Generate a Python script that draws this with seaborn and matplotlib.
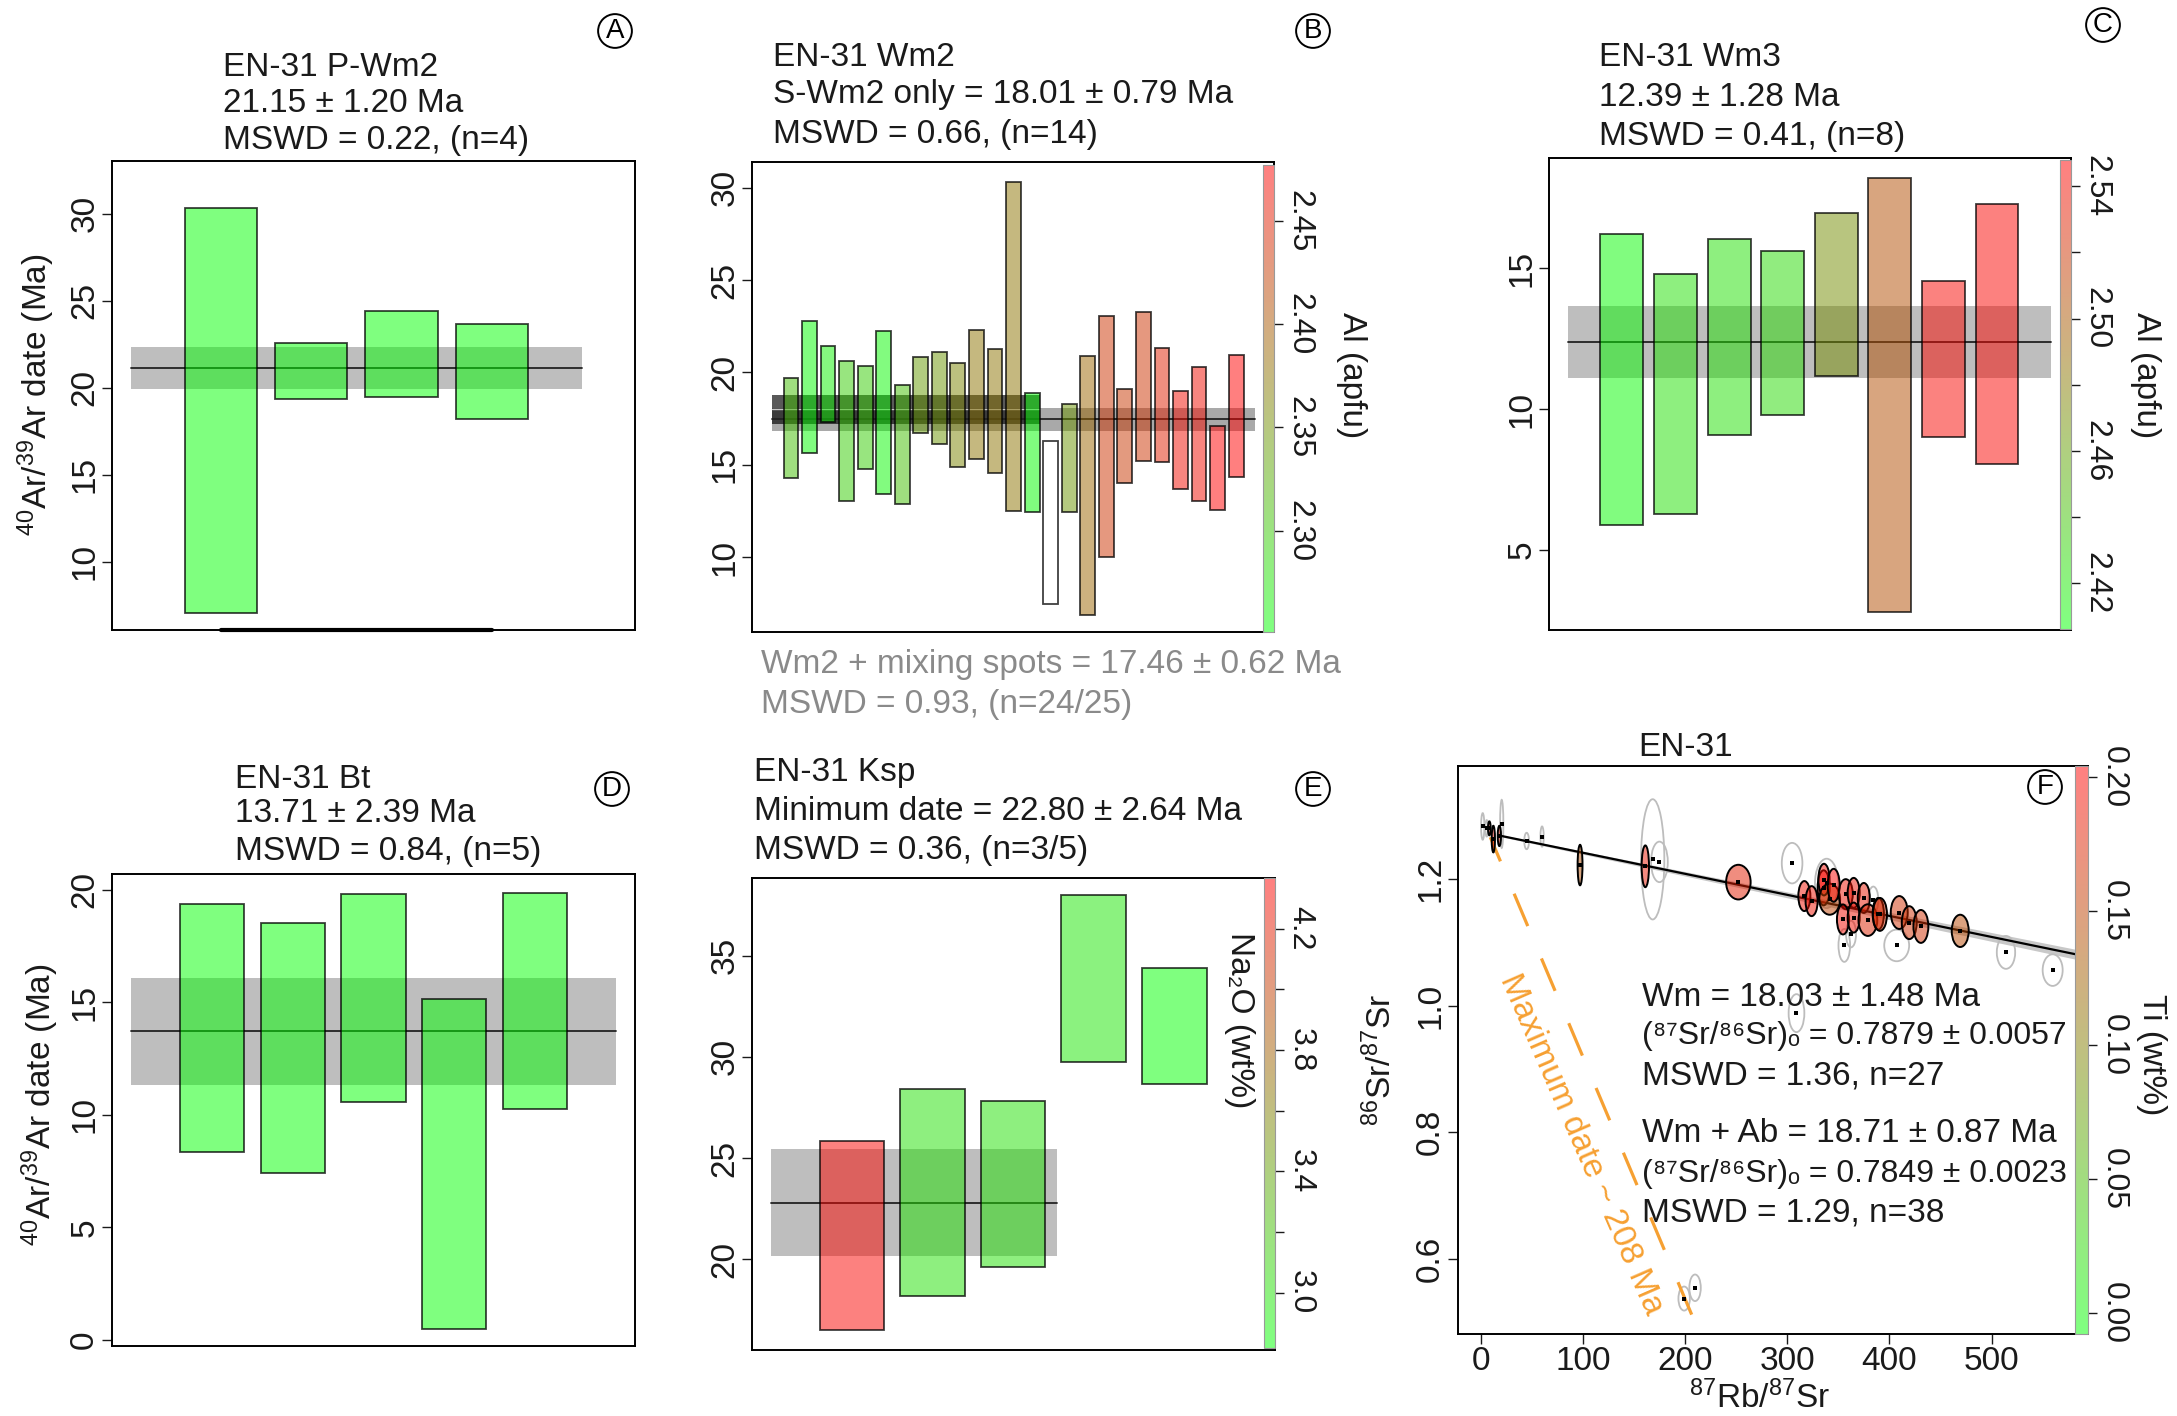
import numpy as np
import pandas as pd
import seaborn as sns
import matplotlib
matplotlib.use("Agg")
import matplotlib.pyplot as plt
from matplotlib.colors import LinearSegmentedColormap, Normalize
from matplotlib.cm import ScalarMappable
from matplotlib.patches import Ellipse

# ---------------- data ----------------
# A: EN-31 P-Wm2
a_lo = [7.07, 19.33, 19.45, 18.18]
a_hi = [30.33, 22.55, 24.42, 23.64]
a_mean, a_err = 21.15, 1.20
a_band = [0, 5]
a_rug = [1, 4]

# B: EN-31 Wm2 (Al apfu colour)
b_lo = [14.31, 15.63, 17.34, 13.02, 14.78, 13.42, 12.87, 16.72, 16.10, 14.88, 15.33, 14.58, 12.52,
        12.47, 7.45, 12.42, 6.88, 9.99, 14.04, 15.23, 15.16, 13.69, 13.04, 12.57, 14.36]
b_hi = [19.68, 22.78, 21.42, 20.60, 20.35, 22.24, 19.30, 20.84, 21.09, 20.50, 22.29, 21.29, 30.29,
        18.86, 16.27, 18.31, 20.89, 23.06, 19.13, 23.25, 21.34, 18.98, 20.30, 17.12, 20.97]
b_al = [2.308, 2.253, 2.262, 2.296, 2.296, 2.258, 2.308, 2.341, 2.346, 2.360, 2.375, 2.375, 2.375,
        2.253, np.nan, 2.346, 2.387, 2.432, 2.428, 2.432, 2.450, 2.466, 2.466, 2.477, 2.477]
b_mean, b_err = 17.46, 0.62
b_band = [0, 26]
b_sub_mean, b_sub_err = 18.01, 0.79
b_sub_band = [0, 14.4]
b_cb = (2.251, 2.477)
b_cb_ticks = [2.30, 2.35, 2.40, 2.45]
b_cb_labels = ["2.30", "2.35", "2.40", "2.45"]

# C: EN-31 Wm3
c_lo = [5.89, 6.29, 9.08, 9.78, 11.17, 2.79, 9.00, 8.05]
c_hi = [16.20, 14.81, 16.02, 15.62, 16.96, 18.20, 14.54, 17.27]
c_al = [2.409, 2.423, 2.423, 2.427, 2.470, 2.505, 2.544, 2.545]
c_mean, c_err = 12.39, 1.28
c_band = [0, 9]
c_cb = (2.406, 2.548)
c_cb_ticks = [2.42, 2.44, 2.46, 2.48, 2.50, 2.52, 2.54]
c_cb_labels = ["2.42", "", "2.46", "", "2.50", "", "2.54"]

# D: EN-31 Bt
d_lo = [8.34, 7.43, 10.58, 0.48, 10.25]
d_hi = [19.38, 18.55, 19.83, 15.17, 19.85]
d_mean, d_err = 13.71, 2.39
d_band = [0, 6]

# E: EN-31 Ksp (Na2O colour)
e_lo = [16.49, 18.18, 19.61, 29.72, 28.67]
e_hi = [25.86, 28.43, 27.84, 37.98, 34.38]
e_na = [4.336, 3.003, 3.003, 2.970, 2.820]
e_mean, e_err = 22.80, 2.64
e_band = [0, 3.54]
e_cb = (2.817, 4.367)
e_cb_ticks = [3.0, 3.2, 3.4, 3.6, 3.8, 4.0, 4.2]
e_cb_labels = ["3.0", "", "3.4", "", "3.8", "", "4.2"]

# F: Rb-Sr isochron (Ti colour)
f_fill_x = [8.3, 12.2, 18.1, 97.1, 161.0, 252.1, 316.7, 323.8, 335.6, 335.9, 341.5, 345.4, 357.2,
            365.0, 354.5, 365.0, 374.9, 378.9, 389.1, 390.7, 409.6, 419.4, 430.8, 469.3]
f_fill_y = [1.280, 1.263, 1.268, 1.222, 1.220, 1.195, 1.173, 1.165, 1.186, 1.199, 1.168, 1.190, 1.176,
            1.178, 1.136, 1.139, 1.170, 1.135, 1.145, 1.144, 1.147, 1.131, 1.125, 1.118]
f_fill_a = [1.3, 1.6, 1.6, 2.4, 3.6, 12.0, 5.9, 5.9, 5.9, 5.5, 10.2, 5.9, 6.9,
            5.9, 5.9, 5.9, 5.9, 9.2, 5.5, 6.9, 8.3, 7.3, 7.3, 8.3]
f_fill_b = [0.011, 0.021, 0.016, 0.032, 0.033, 0.0274, 0.0237, 0.0237, 0.0277, 0.025, 0.0245, 0.026, 0.0237,
            0.0237, 0.0237, 0.0237, 0.0237, 0.025, 0.025, 0.026, 0.026, 0.026, 0.026, 0.0255]
f_fill_ti = [0.18, 0.19, 0.18, 0.14, 0.185, 0.18, 0.19, 0.19, 0.20, 0.195, 0.15, 0.20, 0.19,
             0.19, 0.195, 0.19, 0.185, 0.175, 0.175, 0.17, 0.165, 0.165, 0.165, 0.145]
f_grey_x = [1.8, 5.7, 20.4, 44.8, 59.9, 168.2, 174.8, 304.7, 355.8, 362.4, 384.2, 407.1, 514.1,
            559.8, 338.5, 309.0, 199.0, 209.7]
f_grey_y = [1.283, 1.280, 1.287, 1.260, 1.267, 1.231, 1.227, 1.225, 1.095, 1.113, 1.167, 1.095, 1.084,
            1.056, 1.193, 0.988, 0.537, 0.554]
f_grey_a = [1.6, 1.3, 1.6, 2.3, 1.6, 11.4, 8.2, 10.1, 5.7, 4.9, 4.9, 12.2, 9.0,
            9.8, 11.4, 7.7, 5.6, 5.6]
f_grey_b = [0.021, 0.013, 0.038, 0.013, 0.016, 0.095, 0.032, 0.032, 0.026, 0.021, 0.021, 0.025, 0.026,
            0.025, 0.039, 0.030, 0.019, 0.021]
iso_x = [20.0, 594.4]
iso_y = [1.268, 1.077]
iso_half = [0.0015, 0.008]
max_x = [9.2, 240.0]
max_y = [1.266, 0.383]
f_cb = (-0.0078, 0.204)
f_cb_ticks = [0.00, 0.05, 0.10, 0.15, 0.20]
f_cb_labels = ["0.00", "0.05", "0.10", "0.15", "0.20"]

# ---------------- style ----------------
sns.set_theme(style="ticks")
plt.rcParams['font.family'] = ['Liberation Sans', 'DejaVu Sans']
plt.rcParams['mathtext.fontset'] = 'custom'
plt.rcParams['mathtext.rm'] = 'Liberation Sans'
plt.rcParams['mathtext.it'] = 'Liberation Sans:italic'
plt.rcParams['mathtext.bf'] = 'Liberation Sans:bold'
plt.rcParams['axes.facecolor'] = 'white'
plt.rcParams['text.color'] = '#1a1a1a'

W, H = 2177, 1416
FS = 24
fig = plt.figure(figsize=(W / 100, H / 100), dpi=100)

cmap = LinearSegmentedColormap.from_list("gr", ["#00FF00", "#FF0000"])
cmap_light = LinearSegmentedColormap.from_list("gr_l", [(0.5, 1, 0.5), (1, 0.5, 0.5)])


def px_axes(l, t, r, b):
    return fig.add_axes([l / W, 1 - b / H, (r - l) / W, (b - t) / H])


def ftext(x, y, s, **kw):
    kw.setdefault('fontsize', FS)
    kw.setdefault('va', 'center')
    return fig.text(x / W, 1 - y / H, s, **kw)


def tag(x, y, s):
    ftext(x, y, s, fontsize=20, ha='center', color='black',
          bbox=dict(boxstyle='circle,pad=0.14', fc='none', ec='black', lw=1.4))


def fills(vals, lims):
    norm = Normalize(*lims)
    out = []
    for v in vals:
        if np.isnan(v):
            out.append((1, 1, 1, 1))
        else:
            r, g, b_, _ = cmap(norm(v))
            out.append((r, g, b_, 0.5))
    return out


def style(ax):
    for s in ax.spines.values():
        s.set_visible(True)
        s.set_linewidth(1.4)
        s.set_color('black')
    ax.tick_params(axis='y', direction='out', length=7, width=1, labelsize=FS, pad=1.5,
                   colors='#1a1a1a', left=True)
    for t in ax.get_yticklabels():
        t.set_rotation(90)
        t.set_va('center')


def wm_panel(rect, lo, hi, mean, err, band, xlim, ylim, yticks, colours, band_colour='#BEBEBE'):
    ax = px_axes(*rect)
    pos = np.arange(1, len(lo) + 1)
    ax.fill_between(band, mean - err, mean + err, color=band_colour, lw=0, zorder=1)
    sns.lineplot(x=band, y=[mean, mean], color='#222222', lw=1.3, ax=ax, zorder=2)
    ax.bar(pos, np.subtract(hi, lo), bottom=lo, width=0.8, color=colours,
           edgecolor=(0, 0, 0, 0.75), linewidth=1.3, zorder=3)
    ax.set_xlim(xlim)
    ax.set_ylim(ylim)
    ax.set_yticks(yticks)
    ax.set_xticks([])
    style(ax)
    return ax


def strip(rect, lims, ticks, labels, name, name_xy):
    cax = px_axes(*rect)
    sm = ScalarMappable(norm=Normalize(*lims), cmap=cmap_light)
    cb = fig.colorbar(sm, cax=cax)
    cb.set_ticks(ticks, labels=labels)
    cb.outline.set_edgecolor('#999999')
    cb.outline.set_linewidth(0.8)
    cax.tick_params(axis='y', direction='out', length=6.5, width=1, labelsize=23, pad=1,
                    right=True, left=False, colors='#1a1a1a')
    for t in cax.get_yticklabels():
        t.set_rotation(-90)
        t.set_va('center')
        t.set_ha('left')
    if name:
        ftext(name_xy[0], name_xy[1], name, rotation=-90, ha='center')


green = [(0, 1, 0, 0.5)]
ylab = r'$^{40}$Ar/$^{39}$Ar date (Ma)'

# ---- A ----
axa = wm_panel((112, 161, 635, 630), a_lo, a_hi, a_mean, a_err, a_band, (-0.205, 5.585),
               (6.08, 33.02), [10, 15, 20, 25, 30], green * len(a_lo))
axa.plot(a_rug, [6.08, 6.08], color='black', lw=3, clip_on=False, zorder=4)
ftext(36, 395, ylab, rotation=90, ha='center')
ftext(223, 68, "EN-31 P-Wm2")
ftext(223, 104, "21.15 ± 1.20 Ma")
ftext(223, 141, "MSWD = 0.22, (n=4)")
tag(615, 31, "A")

# ---- B ----
axb = wm_panel((752, 162, 1274, 632), b_lo, b_hi, b_mean, b_err, b_band, (-1.1, 27.04),
               (5.95, 31.39), [10, 15, 20, 25, 30], fills(b_al, b_cb), band_colour='#A9A9A9')
axb.fill_between(b_sub_band, b_sub_mean - b_sub_err, b_sub_mean + b_sub_err,
                 color=(0, 0, 0, 0.65), lw=0, zorder=1.5)
axb.plot(b_sub_band, [b_sub_mean, b_sub_mean], color='#C8C8C8', lw=1, zorder=2)
strip((1263, 165, 1274, 632), b_cb, b_cb_ticks, b_cb_labels, "Al (apfu)", (1351, 375))
ftext(773, 57, "EN-31 Wm2")
ftext(773, 94, "S-Wm2 only = 18.01 ± 0.79 Ma")
ftext(773, 135, "MSWD = 0.66, (n=14)")
ftext(761, 664, "Wm2 + mixing spots = 17.46 ± 0.62 Ma", color='#8a8a8a')
ftext(761, 704, "MSWD = 0.93, (n=24/25)", color='#8a8a8a')
tag(1313, 31, "B")

# ---- C ----
axc = wm_panel((1549, 158, 2071, 630), c_lo, c_hi, c_mean, c_err, c_band, (-0.36, 9.38),
               (2.16, 18.91), [5, 10, 15], fills(c_al, c_cb))
strip((2060, 160, 2071, 629), c_cb, c_cb_ticks, c_cb_labels, "Al (apfu)", (2146, 375))
ftext(1599, 57, "EN-31 Wm3")
ftext(1599, 97, "12.39 ± 1.28 Ma")
ftext(1599, 136, "MSWD = 0.41, (n=8)")
tag(2103, 25, "C")

# ---- D ----
axd = wm_panel((112, 874, 635, 1346), d_lo, d_hi, d_mean, d_err, d_band, (-0.24, 6.24),
               (-0.27, 20.71), [0, 5, 10, 15, 20], green * len(d_lo))
ftext(40, 1105, ylab, rotation=90, ha='center')
ftext(235, 780, "EN-31 Bt")
ftext(235, 814, "13.71 ± 2.39 Ma")
ftext(235, 852, "MSWD = 0.84, (n=5)")
tag(612, 789, "D")

# ---- E ----
axe = wm_panel((752, 878, 1275, 1350), e_lo, e_hi, e_mean, e_err, e_band, (-0.24, 6.25),
               (15.52, 38.83), [20, 25, 30, 35], fills(e_na, e_cb))
strip((1264, 878, 1275, 1348), e_cb, e_cb_ticks, e_cb_labels, "", (1240, 1020))
ftext(1240, 1020, "Na₂O (wt%)", rotation=-90, ha='center')
ftext(754, 772, "EN-31 Ksp")
ftext(754, 812, "Minimum date = 22.80 ± 2.64 Ma")
ftext(754, 851, "MSWD = 0.36, (n=3/5)")
tag(1313, 789, "E")

# ---- F ----
axf = px_axes(1458, 766, 2088, 1334)
axf.fill_between(iso_x, np.subtract(iso_y, iso_half), np.add(iso_y, iso_half),
                 color='#C8C8C8', lw=0, zorder=1)
for x, y, a, b in zip(f_grey_x, f_grey_y, f_grey_a, f_grey_b):
    axf.add_patch(Ellipse((x, y), 2 * a, 2 * b, fc='none', ec='#BDBDBD', lw=1.3, zorder=2))
axf.plot(max_x, max_y, color='#F6A032', lw=2.3, linestyle=(2.8, (11, 11)), zorder=2.5)
sns.lineplot(x=iso_x, y=iso_y, color='black', lw=1.6, ax=axf, zorder=3)
ti_cols = fills(f_fill_ti, f_cb)
for x, y, a, b, c in zip(f_fill_x, f_fill_y, f_fill_a, f_fill_b, ti_cols):
    axf.add_patch(Ellipse((x, y), 2 * a, 2 * b, fc=c, ec='black', lw=1.4, zorder=4))
dots = pd.DataFrame({"x": f_grey_x + f_fill_x, "y": f_grey_y + f_fill_y})
sns.scatterplot(data=dots, x="x", y="y", marker='s', s=7, color='black', linewidth=0,
                ax=axf, zorder=5, legend=False)
axf.text(98, 0.781, "Maximum date ~ 208 Ma", color='#F6A032', fontsize=FS, rotation=-66.5,
         rotation_mode='anchor', ha='center', va='center')
axf.set_xlim(-22.4, 594.4)
axf.set_ylim(0.481, 1.3785)
axf.set_xticks([0, 100, 200, 300, 400, 500])
axf.set_yticks([0.6, 0.8, 1.0, 1.2])
axf.set_xlabel("")
axf.set_ylabel("")
style(axf)
axf.tick_params(axis='x', direction='out', length=7, width=1, labelsize=FS, pad=2,
                colors='#1a1a1a', bottom=True)
strip((2075, 766, 2088, 1334), f_cb, f_cb_ticks, f_cb_labels, "Ti (wt%)", (2152, 1055))
ftext(1686, 747, "EN-31", ha='center')
ftext(1381, 1060, r'$^{86}$Sr/$^{87}$Sr', rotation=90, ha='center')
ftext(1760, 1398, r'$^{87}$Rb/$^{87}$Sr', ha='center')
ftext(1642, 997, "Wm = 18.03 ± 1.48 Ma")
ftext(1642, 1036, "(⁸⁷Sr/⁸⁶Sr)ₒ = 0.7879 ± 0.0057", fontsize=23)
ftext(1642, 1076, "MSWD = 1.36, n=27")
ftext(1642, 1134, "Wm + Ab = 18.71 ± 0.87 Ma")
ftext(1642, 1174, "(⁸⁷Sr/⁸⁶Sr)ₒ = 0.7849 ± 0.0023", fontsize=23)
ftext(1642, 1213, "MSWD = 1.29, n=38")
tag(2045, 787, "F")

fig.savefig("out.png", dpi=100)
